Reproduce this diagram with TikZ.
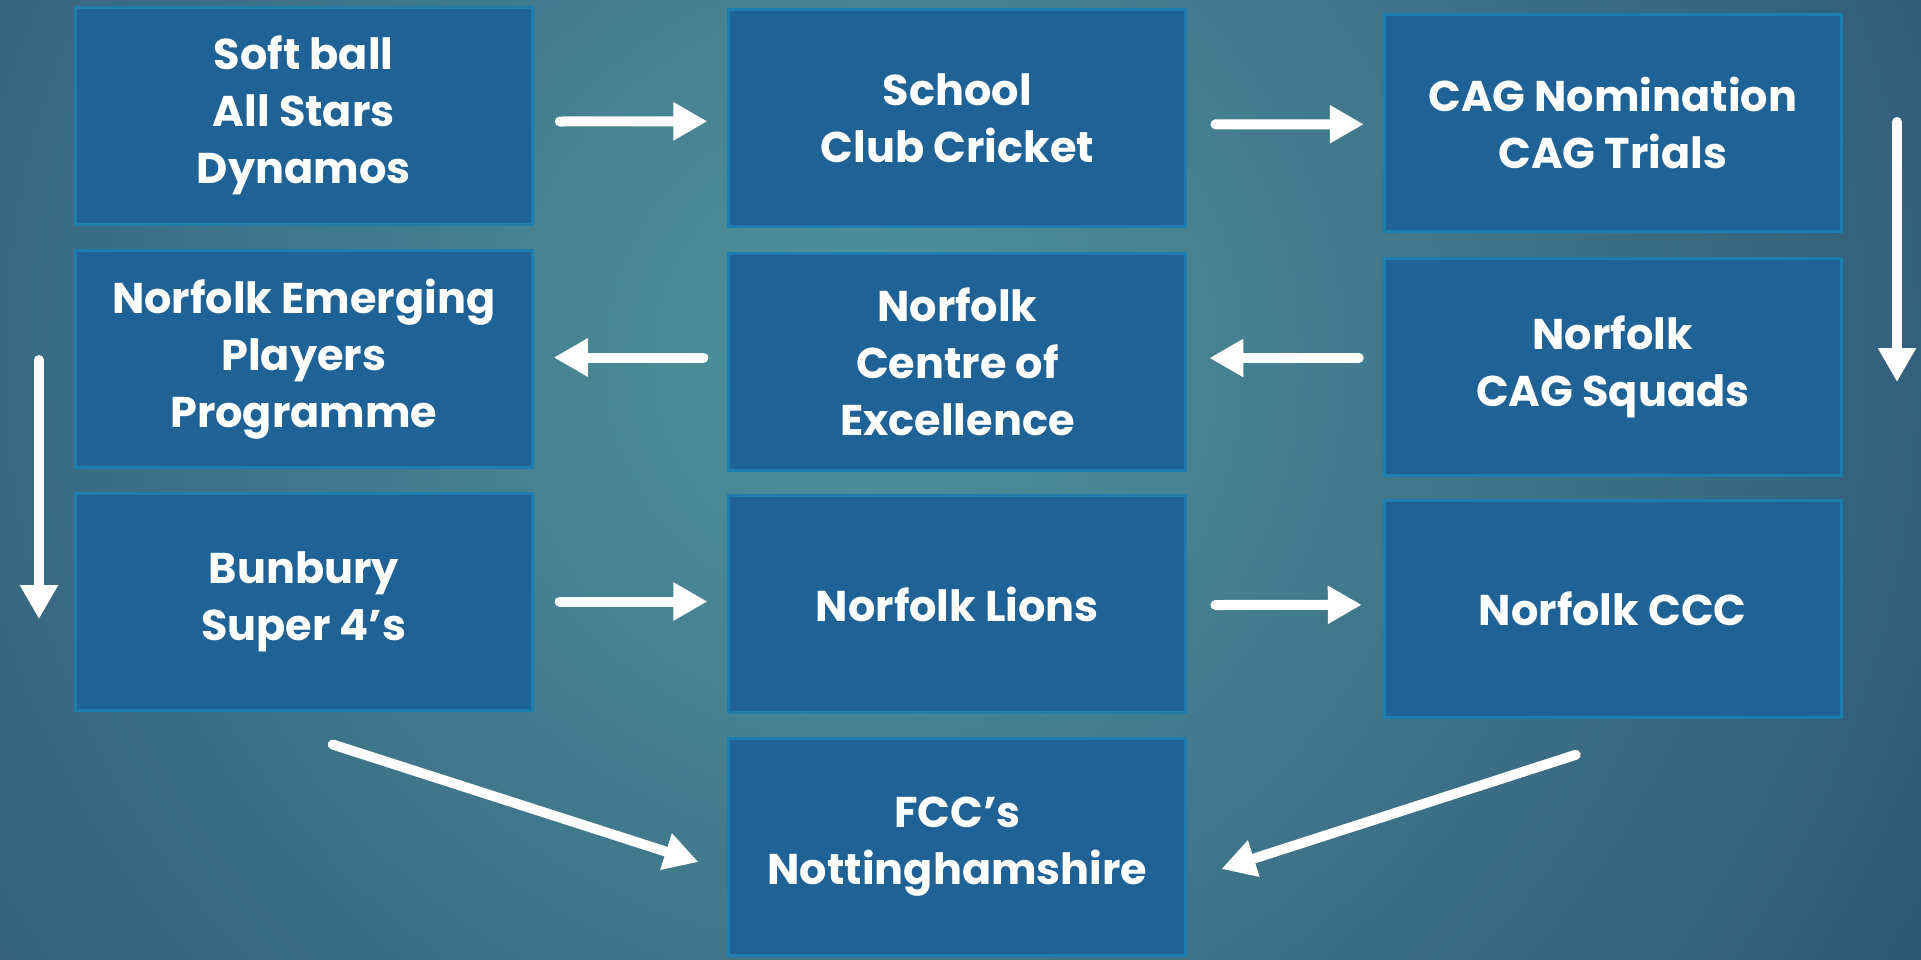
\documentclass[tikz,border=0pt]{standalone}
\usepackage{fontspec}
\setmainfont{Poppins}
\usetikzlibrary{arrows.meta,calc}
\definecolor{boxfill}{HTML}{1F6295}
\definecolor{boxline}{HTML}{1C7DAE}
\definecolor{bgin}{HTML}{4F939D}
\definecolor{bgout}{HTML}{213E65}
\begin{document}
\begin{tikzpicture}[x=1pt,y=-1pt,
  stage/.style={draw=boxline, line width=3pt, fill=boxfill,
    minimum width=457pt, minimum height=217pt, inner sep=0pt,
    text=white, align=center, font=\fontsize{43}{57}\selectfont\bfseries},
  arr/.style={draw=white, line width=10pt, line cap=round,
    -{Triangle[length=34pt,width=36pt]}}]
\useasboundingbox (0,0) rectangle (1921,959);
\fill[bgout] (0,0) rectangle (1921,959);
\begin{scope}
  \clip (0,0) rectangle (1921,959);
  \shade[inner color=bgin, outer color=bgout] (860,360) circle (1750pt);
\end{scope}

\node[stage] (A) at (303.75,115.5) {Soft ball\\All Stars\\Dynamos};
\node[stage] (B) at (957.4,118.3) {School\\Club Cricket};
\node[stage] (C) at (1612.75,123.25) {CAG Nomination\\CAG Trials};
\node[stage] (D) at (303.75,359) {Norfolk Emerging\\Players\\Programme};
\node[stage] (E) at (957.4,361.5) {Norfolk\\Centre of\\Excellence};
\node[stage] (F) at (1612.75,366.5) {Norfolk\\CAG Squads};
\node[stage] (G) at (303.75,601.5) {Bunbury\\Super 4’s};
\node[stage] (H) at (957.4,604) {Norfolk Lions};
\node[stage] (I) at (1612.75,608.8) {Norfolk CCC};
\node[stage] (J) at (957.4,846.5) {FCC’s\\Nottinghamshire};

\coordinate (r1) at (1897,122);
\coordinate (r2) at (1897,382);
\coordinate (l1) at (39,360);
\coordinate (l2) at (39,619);

\draw[arr] ($(A.east)+(26,6)$) -- ($(B.west)+(-20,3)$);
\draw[arr] ($(B.east)+(28,6)$) -- ($(C.west)+(-19,1)$);
\draw[arr] (r1) -- (r2);
\draw[arr] ($(F.west)+(-24,-8.5)$) -- ($(E.east)+(22,-3.5)$);
\draw[arr] ($(E.west)+(-24,-4)$) -- ($(D.east)+(20,-1.5)$);
\draw[arr] (l1) -- (l2);
\draw[arr] ($(G.east)+(26,0)$) -- ($(H.west)+(-20,-2.5)$);
\draw[arr] ($(H.east)+(28,1)$) -- ($(I.west)+(-21,-4)$);
\draw[arr] ($(G.south)+(29,33)$) -- ($(J.west)+(-29,15.5)$);
\draw[arr] ($(I.south)+(-37,36)$) -- ($(J.east)+(34,22.5)$);
\end{tikzpicture}
\end{document}
